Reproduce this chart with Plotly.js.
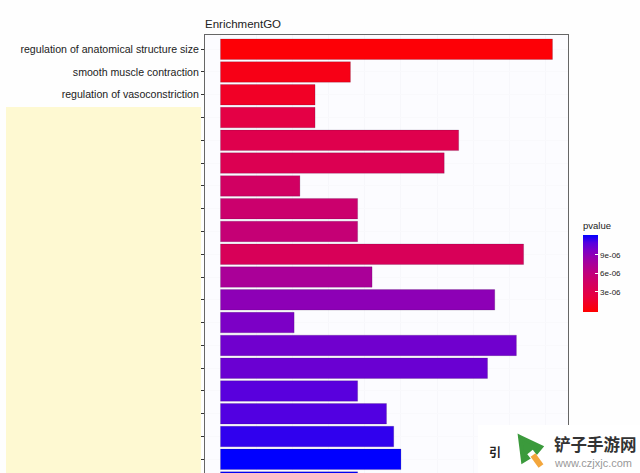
<!DOCTYPE html>
<html>
<head>
<meta charset="utf-8">
<script src="https://cdn.plot.ly/plotly-3.0.1.min.js"></script>
<style>html,body{margin:0;padding:0;background:#fefefe;overflow:hidden}#c{width:640px;height:473px}</style>
</head>
<body>
<div id="c"></div>
<script>
const ranks = [1,2,3,4,5,6,7,8,9,10,11,12,13,14,15,16,17,18,19,20];
const tickLabels = ["regulation of anatomical structure size","smooth muscle contraction","regulation of vasoconstriction","","","","","","","","","","","","","","","","",""];
const counts = [46,18,13.1,13.1,33,31,11,19,19,42,21,38,10.2,41,37,19,23,24,25,19];
const pvalues = [1e-8,6.3e-7,1.25e-6,2.6e-6,3.12e-6,3.49e-6,4.49e-6,5.11e-6,5.61e-6,3.87e-6,7.47e-6,8.97e-6,9.71e-6,1.01e-5,1.03e-5,1.083e-5,1.1e-5,1.15e-5,1.22e-5,1.22e-5];
const colorTicks = [3e-6,6e-6,9e-6];
const colorTickLabels = ["3e-06","6e-06","9e-06"];

const L=205,R=568,T=35,B=473;
const px=x=>(x-L)/(R-L), py=y=>(B-y)/(B-T);
const P=(x,y)=>px(x)+","+py(y);
const paperShape=o=>Object.assign({xref:"paper",yref:"paper"},o);

const trace={
  type:"bar",orientation:"h",y:ranks,x:counts,width:0.9,
  marker:{color:pvalues,cmin:-2.4e-7,cmax:1.22e-5,
    colorscale:[[0,"#ff0000"],[0.2,"#e8003f"],[0.4,"#cf0066"],[0.5,"#c1007c"],[0.6,"#ae0093"],[0.7,"#9800ab"],[0.8,"#7c00c6"],[0.9,"#5500e0"],[1,"#0000ff"]],
    line:{width:0.5,color:"rgba(40,0,60,0.35)"},
    colorbar:{x:px(583),xanchor:"left",y:py(312),yanchor:"bottom",xpad:0,ypad:0,
      thickness:15,thicknessmode:"pixels",len:93,lenmode:"pixels",outlinewidth:0,
      tickmode:"array",tickvals:colorTicks,ticktext:colorTickLabels,
      ticks:"inside",ticklen:3,tickcolor:"#ffffff",tickwidth:1,
      tickfont:{family:"Liberation Sans",size:8,color:"#222"},
      title:{text:"pvalue",side:"top",font:{family:"Liberation Sans",size:9.5,color:"#222"}}}
  },
  hoverinfo:"skip"
};
const layout={
  width:640,height:473,margin:{l:L,r:640-R,t:T,b:0},
  paper_bgcolor:"#fefefe",plot_bgcolor:"#fcfcff",showlegend:false,bargap:0,
  font:{family:"Liberation Sans"},
  title:{text:"EnrichmentGO",x:L/640,xanchor:"left",yref:"container",y:1-24/473,yanchor:"middle",
    font:{family:"Liberation Sans",size:11.5,color:"#222"}},
  xaxis:{range:[-2.15,48.15],dtick:5,showticklabels:false,ticks:"",zeroline:false,
    showgrid:true,gridcolor:"#f7f7fb",gridwidth:1,showline:true,linecolor:"#666",linewidth:1,mirror:true},
  yaxis:{range:[19.6,0.377],tickmode:"array",tickvals:ranks,ticktext:tickLabels,
    ticks:"outside",ticklen:3,tickcolor:"#333",tickwidth:1,
    tickfont:{family:"Liberation Sans",size:10.6,color:"#222"},zeroline:false,
    showgrid:true,gridcolor:"#f9f9fc",showline:true,linecolor:"#666",linewidth:1,mirror:true},
  shapes:[
    paperShape({type:"rect",layer:"above",x0:px(6),x1:px(201),y0:py(107),y1:py(473),fillcolor:"#fef9d2",line:{width:0}}),
    paperShape({type:"rect",layer:"above",x0:px(478),x1:px(640),y0:py(425),y1:py(473),fillcolor:"#ffffff",line:{width:0}}),
    paperShape({type:"path",layer:"above",fillcolor:"#3b9a3c",line:{color:"#3b9a3c",width:4},
      path:"M "+P(520,437)+" L "+P(541,447)+" L "+P(536,453)+" L "+P(523,461)+" Z"}),
    paperShape({type:"line",layer:"above",x0:px(530),y0:py(452),x1:px(534),y1:py(457),line:{color:"#ffffff",width:7}}),
    paperShape({type:"line",layer:"above",x0:px(533),y0:py(455),x1:px(541),y1:py(466),line:{color:"#f3a63c",width:6}})
  ],
  annotations:[
    {xref:"paper",yref:"paper",x:px(552),y:py(443.5),xanchor:"left",yanchor:"middle",showarrow:false,text:"<b>铲子手游网</b>",
      font:{family:"Noto Sans CJK SC",size:16.5,color:"#333"}},
    {xref:"paper",yref:"paper",x:px(552),y:py(462.5),xanchor:"left",yanchor:"middle",showarrow:false,text:"www.czjxjc.com",
      font:{family:"Liberation Sans",size:11,color:"#999"}},
    {xref:"paper",yref:"paper",x:px(495),y:py(451),xanchor:"center",yanchor:"middle",showarrow:false,text:"<b>引</b>",
      font:{family:"Noto Sans CJK SC",size:12,color:"#222"}}
  ]
};
Plotly.newPlot("c",[trace],layout,{staticPlot:true,displayModeBar:false});
</script>
</body>
</html>
